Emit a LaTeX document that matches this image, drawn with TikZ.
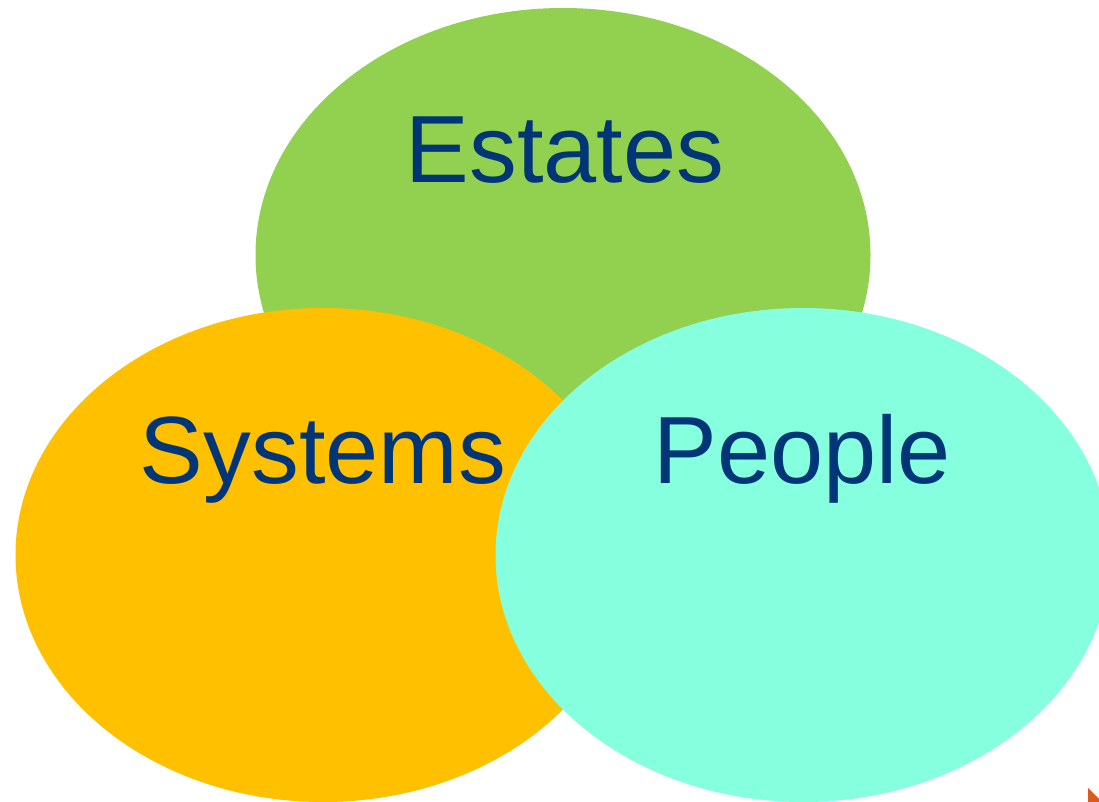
\documentclass[tikz,border=0pt]{standalone}
\usepackage{fontspec}
\setmainfont{Liberation Sans}
\definecolor{egreen}{HTML}{92D050}
\definecolor{sorange}{HTML}{FFC000}
\definecolor{pcyan}{HTML}{86FFDE}
\definecolor{txtblue}{HTML}{003677}
\definecolor{corner}{HTML}{D95B1E}
\begin{document}
\begin{tikzpicture}[x=1pt,y=-1pt,
  lbl/.style={anchor=base,inner sep=0pt,text=txtblue,font=\fontsize{95.5}{96}\selectfont}]
\useasboundingbox (0,0) rectangle (1099,802);
\clip (0,0) rectangle (1099,802);
\fill[egreen] (563,255) ellipse [x radius=307.5, y radius=247];
\fill[sorange] (323,555) ellipse [x radius=307.5, y radius=247];
\fill[pcyan] (803,555) ellipse [x radius=307.5, y radius=247];
\fill[corner] (1088,788) -- (1088,802) -- (1102,802) -- cycle;
\node[lbl] (estates) at (565,183) {Estates};
\node[lbl] (systems) at (323,483) {Systems};
\node[lbl] (people) at (802,483) {People};
\end{tikzpicture}
\end{document}
